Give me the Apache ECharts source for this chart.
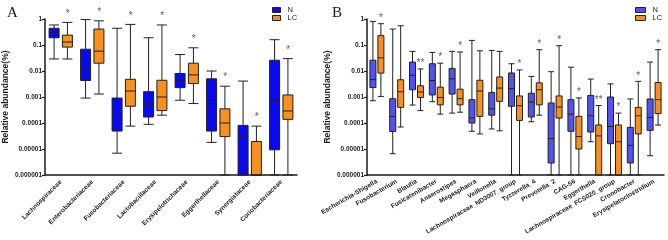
<!DOCTYPE html>
<html>
<head>
<meta charset="utf-8">
<script src="https://cdn.jsdelivr.net/npm/echarts@6/dist/echarts.min.js"></script>
<style>
  html, body { margin: 0; padding: 0; background: #fff; }
  #main { width: 668px; height: 240px; }
</style>
</head>
<body>
<div id="main"></div>
<script>
// panel A: family level, each row is [min, q1, median, q3, max]
var catsA = ['Lachnospiraceae', 'Enterobacteriaceae', 'Fusobacteriaceae', 'Lactobacillaceae',
    'Erysipelotrichaceae', 'Eggerthellaceae', 'Synergistaceae', 'Coriobacteriaceae'];
var nA = [
    [0.029, 0.19, 0.31, 0.44, 0.59],
    [0.00091, 0.0043, 0.0118, 0.069, 0.95],
    [0.0000069, 0.000049, 0.00019, 0.00091, 0.44],
    [0.000089, 0.00017, 0.00052, 0.0016, 0.19],
    [0.00075, 0.0023, 0.0044, 0.008, 0.043],
    [0.000018, 0.000049, 0.00079, 0.005, 0.01],
    [0.000001, 0.000001, 0.000031, 0.000081, 0.0041],
    [0.000001, 0.0000093, 0.00075, 0.026, 0.16]
];
var lcA = [
    [0.029, 0.083, 0.13, 0.24, 0.74],
    [0.0013, 0.02, 0.058, 0.41, 0.85],
    [0.000076, 0.00044, 0.0017, 0.0048, 0.62],
    [0.0002, 0.0003, 0.001, 0.0044, 0.59],
    [0.00056, 0.0033, 0.0071, 0.02, 0.078],
    [0.000001, 0.00003, 0.0001, 0.00035, 0.0026],
    [0.000001, 0.000001, 0.000001, 0.0000195, 0.000076],
    [0.000001, 0.000138, 0.00029, 0.0012, 0.03]
];
var sigA = ['*', '*', '*', '*', '*', '*', '*', '*'];

// panel B: genus level
var catsB = ['Escherichia-Shigella', 'Fusobacterium', 'Blautia', 'Fusicatenibacter', 'Anaerostipes',
    'Megasphaera', 'Veillonella', 'Lachnospiraceae_ND3007_group', 'Tyzzerella_4', 'Prevotella_2',
    'CAG-56', 'Eggerthella', 'Lachnospiraceae_FCS020_group', 'Cronobacter', 'Erysipelatoclostridium'];
var nB = [
    [0.00072, 0.0023, 0.0047, 0.026, 0.81],
    [0.0000066, 0.000047, 0.00018, 0.00086, 0.41],
    [0.00049, 0.0019, 0.0068, 0.022, 0.057],
    [0.00066, 0.0012, 0.0043, 0.019, 0.052],
    [0.00024, 0.0013, 0.005, 0.0126, 0.057],
    [0.000048, 0.0001, 0.000155, 0.00079, 0.15],
    [0.000059, 0.0002, 0.00035, 0.0015, 0.062],
    [0.000001, 0.00044, 0.0021, 0.0084, 0.019],
    [0.000112, 0.00017, 0.00064, 0.0014, 0.0062],
    [0.000001, 0.0000029, 0.000025, 0.00059, 0.0094],
    [0.000001, 0.000048, 0.00022, 0.00079, 0.014],
    [0.000019, 0.000045, 0.00019, 0.00115, 0.0049],
    [0.000001, 0.000016, 0.000074, 0.001, 0.0032],
    [0.000001, 0.0000029, 0.0000138, 0.000068, 0.00084],
    [0.0000055, 0.000052, 0.000165, 0.00084, 0.022]
];
var lcB = [
    [0.00105, 0.0083, 0.032, 0.23, 0.66],
    [0.00007, 0.0004, 0.0016, 0.0046, 0.55],
    [0.0003, 0.00096, 0.00155, 0.0027, 0.012],
    [0.00022, 0.0005, 0.00096, 0.0024, 0.02],
    [0.00026, 0.0005, 0.00086, 0.002, 0.054],
    [0.000038, 0.00018, 0.0017, 0.0044, 0.06],
    [0.00005, 0.00068, 0.0022, 0.0059, 0.057],
    [0.000001, 0.000126, 0.00046, 0.0011, 0.011],
    [0.0002, 0.0005, 0.0019, 0.0035, 0.066],
    [0.000001, 0.000155, 0.00041, 0.0011, 0.094],
    [0.000001, 0.00001, 0.00003, 0.00018, 0.00092],
    [0.000001, 0.000001, 0.000032, 0.000084, 0.00047],
    [0.000001, 0.000001, 0.000019, 0.000084, 0.00024],
    [0.000001, 0.000038, 0.00019, 0.0004, 0.004],
    [0.000083, 0.00023, 0.00079, 0.0036, 0.066]
];
var sigB = ['*', '', '**', '*', '*', '', '', '*', '*', '*', '*', '**', '*', '*', '*'];

var FONT = '"Liberation Sans", Arial, sans-serif';
var blueA = '#0a0af2', blueB = '#5252ee', orange = '#f7901e';
var ink = '#1a1a1a';

function yAxis(gridIdx) {
    return {
        type: 'log', gridIndex: gridIdx, min: 0.000001, max: 1, logBase: 10, splitNumber: 6,
        name: 'Relative abundance(%)', nameLocation: 'middle', nameGap: 35,
        nameTextStyle: { fontFamily: FONT, fontSize: 8.5, fontWeight: 'bold', color: ink },
        axisLine: { show: true, lineStyle: { color: ink, width: 1.5 } },
        axisTick: { show: true, length: 3, lineStyle: { color: ink, width: 1.2 } },
        minorTick: { show: false },
        splitLine: { show: false },
        axisLabel: {
            fontFamily: FONT, fontSize: 6.5, fontWeight: 'bold', color: ink, margin: 3,
            formatter: function (v) { return String(Number(v.toPrecision(2))); }
        }
    };
}

function xAxis(gridIdx, cats, rot) {
    return {
        type: 'category', gridIndex: gridIdx, data: cats,
        axisLine: { lineStyle: { color: ink, width: 1.5 } },
        axisTick: { alignWithLabel: true, length: 4, lineStyle: { color: ink, width: 1.2 } },
        axisLabel: { interval: 0, rotate: rot, fontFamily: FONT, fontSize: 6.5, fontWeight: 'bold', color: ink, margin: 6 }
    };
}

function boxSeries(name, data, color, gx, w) {
    return {
        name: name, type: 'boxplot', xAxisIndex: gx, yAxisIndex: gx, data: data,
        boxWidth: [w, w],
        itemStyle: { color: color, borderColor: '#202020', borderWidth: 1 },
        emphasis: { disabled: true }
    };
}

function starSeries(lc, sig, gx, dx, dist) {
    return {
        type: 'scatter', xAxisIndex: gx, yAxisIndex: gx, symbolSize: 1,
        itemStyle: { color: 'rgba(0,0,0,0)' }, silent: true,
        data: lc.map(function (d, i) { return [i, d[4]]; }),
        label: {
            show: true, position: 'top', distance: dist, offset: [dx, 0],
            fontFamily: FONT, fontSize: 10, color: '#333',
            formatter: function (p) { return sig[p.dataIndex]; }
        }
    };
}

function legend(left, blue, w) {
    return {
        left: left, top: 1, orient: 'vertical', itemWidth: w, itemHeight: 5, itemGap: 0,
        icon: 'rect',
        textStyle: { fontFamily: FONT, fontSize: 7.5, color: ink, lineHeight: 8, padding: [0, 0, 0, 2] },
        data: [
            { name: 'N', itemStyle: { color: blue, borderColor: '#222', borderWidth: 1 } },
            { name: 'LC', itemStyle: { color: orange, borderColor: '#222', borderWidth: 1 } }
        ]
    };
}

var chart = echarts.init(document.getElementById('main'), null, { renderer: 'canvas' });
chart.setOption({
    animation: false,
    backgroundColor: '#fff',
    title: [
        { text: 'A', left: 2, top: 1, textStyle: { fontFamily: '"Liberation Serif", serif', fontSize: 15, fontWeight: 'normal', color: ink } },
        { text: 'B', left: 327, top: 1, textStyle: { fontFamily: '"Liberation Serif", serif', fontSize: 15, fontWeight: 'normal', color: ink } }
    ],
    legend: [legend(267, blueA, 8), legend(630, blueB, 10)],
    grid: [
        { left: 44, top: 19, width: 253, height: 156 },
        { left: 367, top: 19, width: 297, height: 156 }
    ],
    xAxis: [xAxis(0, catsA, 45), xAxis(1, catsB, 30)],
    yAxis: [yAxis(0), yAxis(1)],
    series: [
        boxSeries('N', nA, blueA, 0, 10),
        boxSeries('LC', lcA, orange, 0, 10),
        starSeries(lcA, sigA, 0, 7, 3),
        boxSeries('N', nB, blueB, 1, 6),
        boxSeries('LC', lcB, orange, 1, 6),
        starSeries(lcB, sigB, 1, 4, 0)
    ]
});
</script>
</body>
</html>
